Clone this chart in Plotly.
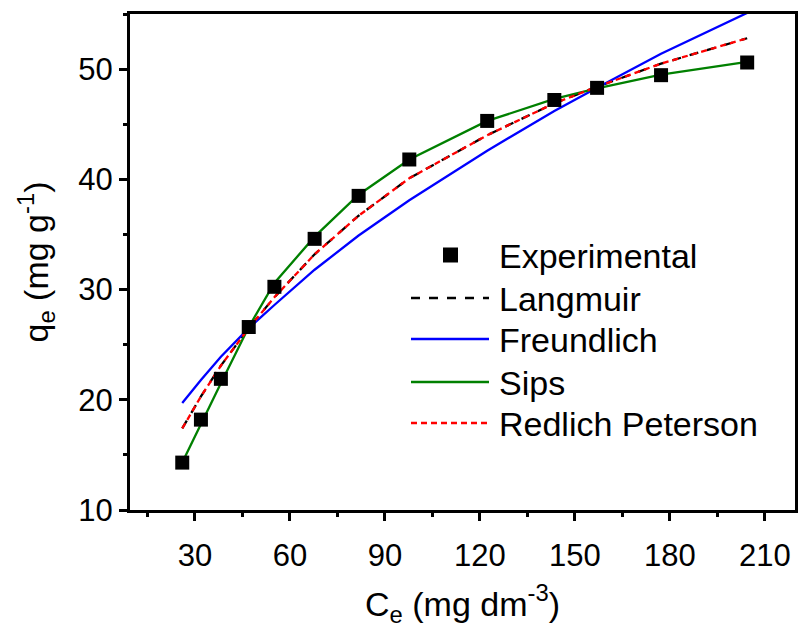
import plotly.graph_objects as go

# Data
ce = [26.0, 31.9, 38.2, 47.0, 55.1, 67.8, 81.7, 97.7, 122.3, 143.5, 157.0, 177.2, 204.4]
q_exp = [14.3, 18.2, 21.9, 26.6, 30.25, 34.6, 38.5, 41.8, 45.3, 47.2, 48.3, 49.45, 50.6]
q_langmuir = [17.4, 20.3, 23.1, 26.5, 29.3, 33.2, 36.7, 40.1, 44.0, 46.9, 48.4, 50.5, 52.8]
q_freundlich = [19.7, 21.8, 23.9, 26.5, 28.6, 31.8, 34.9, 38.1, 42.6, 46.2, 48.3, 51.4, 55.1]
q_sips = [14.3, 17.8, 21.5, 26.6, 30.6, 34.8, 38.6, 41.8, 45.3, 47.3, 48.25, 49.5, 50.65]
q_rp = [17.4, 20.3, 23.1, 26.5, 29.3, 33.2, 36.7, 40.1, 44.0, 46.9, 48.4, 50.5, 52.8]

legend_names = ["Experimental", "Langmuir", "Freundlich", "Sips", "Redlich Peterson"]

FONT = "Liberation Sans, Arial, sans-serif"

STYLES = {
    "Langmuir": dict(color="black", width=2.3, dash="9px,9px"),
    "Freundlich": dict(color="#0000ff", width=2.3, dash="solid"),
    "Sips": dict(color="#008000", width=2.3, dash="solid"),
    "Redlich Peterson": dict(color="#ff0000", width=2.3, dash="6px,4px"),
}

fig = go.Figure()
for name, ys in [("Langmuir", q_langmuir), ("Freundlich", q_freundlich),
                 ("Sips", q_sips), ("Redlich Peterson", q_rp)]:
    fig.add_trace(go.Scatter(x=ce, y=ys, mode="lines", name=name,
                             line=STYLES[name], showlegend=False))
fig.add_trace(go.Scatter(x=ce, y=q_exp, mode="markers", name="Experimental",
                         marker=dict(symbol="square", size=14, color="black",
                                     line=dict(width=0)), showlegend=False))

# ---- custom legend (key samples are styling, placed in paper coordinates) ----
PL, PR, PT, PB = 130, 795, 14, 510


def px_x(p):
    return (p - PL) / (PR - PL)


def px_y(p):
    return (PB - p) / (PB - PT)


row_y = [255, 298, 339, 382, 423]
key_x0, key_x1, text_x = 411, 489, 497
shapes = []
annotations = []
for name, ry in zip(legend_names, row_y):
    if name == "Experimental":
        shapes.append(dict(type="rect", xref="paper", yref="paper",
                           x0=px_x(443), x1=px_x(458), y0=px_y(ry + 7.5), y1=px_y(ry - 7.5),
                           fillcolor="black", line=dict(width=0)))
    else:
        st = STYLES[name]
        shapes.append(dict(type="line", xref="paper", yref="paper",
                           x0=px_x(key_x0), x1=px_x(key_x1), y0=px_y(ry), y1=px_y(ry),
                           line=dict(color=st["color"], width=st["width"], dash=st["dash"])))
    annotations.append(dict(xref="paper", yref="paper", x=px_x(text_x), y=px_y(ry + 1),
                            xanchor="left", yanchor="middle", showarrow=False, text=name,
                            font=dict(family=FONT, size=34, color="black")))

axis_common = dict(
    showline=True, linecolor="black", linewidth=3, mirror=True,
    ticks="outside", ticklen=8, tickwidth=3, tickcolor="black",
    showgrid=False, zeroline=False,
    tickfont=dict(family=FONT, size=31, color="black"),
)

fig.update_xaxes(
    range=[9.5, 219.5], tick0=0, dtick=30, ticklabelstandoff=8,
    minor=dict(ticks="outside", ticklen=4, tickwidth=3, tickcolor="black", dtick=15, tick0=0),
    title=dict(text="C<sub>e</sub> (mg dm<sup>-3</sup>)", font=dict(family=FONT, size=34, color="black"), standoff=20),
    **axis_common,
)
fig.update_yaxes(
    range=[10, 55], tick0=0, dtick=10,
    minor=dict(ticks="outside", ticklen=4, tickwidth=3, tickcolor="black", dtick=5, tick0=0),
    title=dict(text="q<sub>e</sub> (mg g<sup>-1</sup>)", font=dict(family=FONT, size=34, color="black"), standoff=20),
    **axis_common,
)

fig.update_layout(
    width=798, height=632,
    margin=dict(l=PL, r=798 - PR, t=PT, b=632 - PB, autoexpand=False),
    paper_bgcolor="white", plot_bgcolor="white",
    showlegend=False,
    shapes=shapes,
    annotations=annotations,
)

fig.write_html("out.html")
